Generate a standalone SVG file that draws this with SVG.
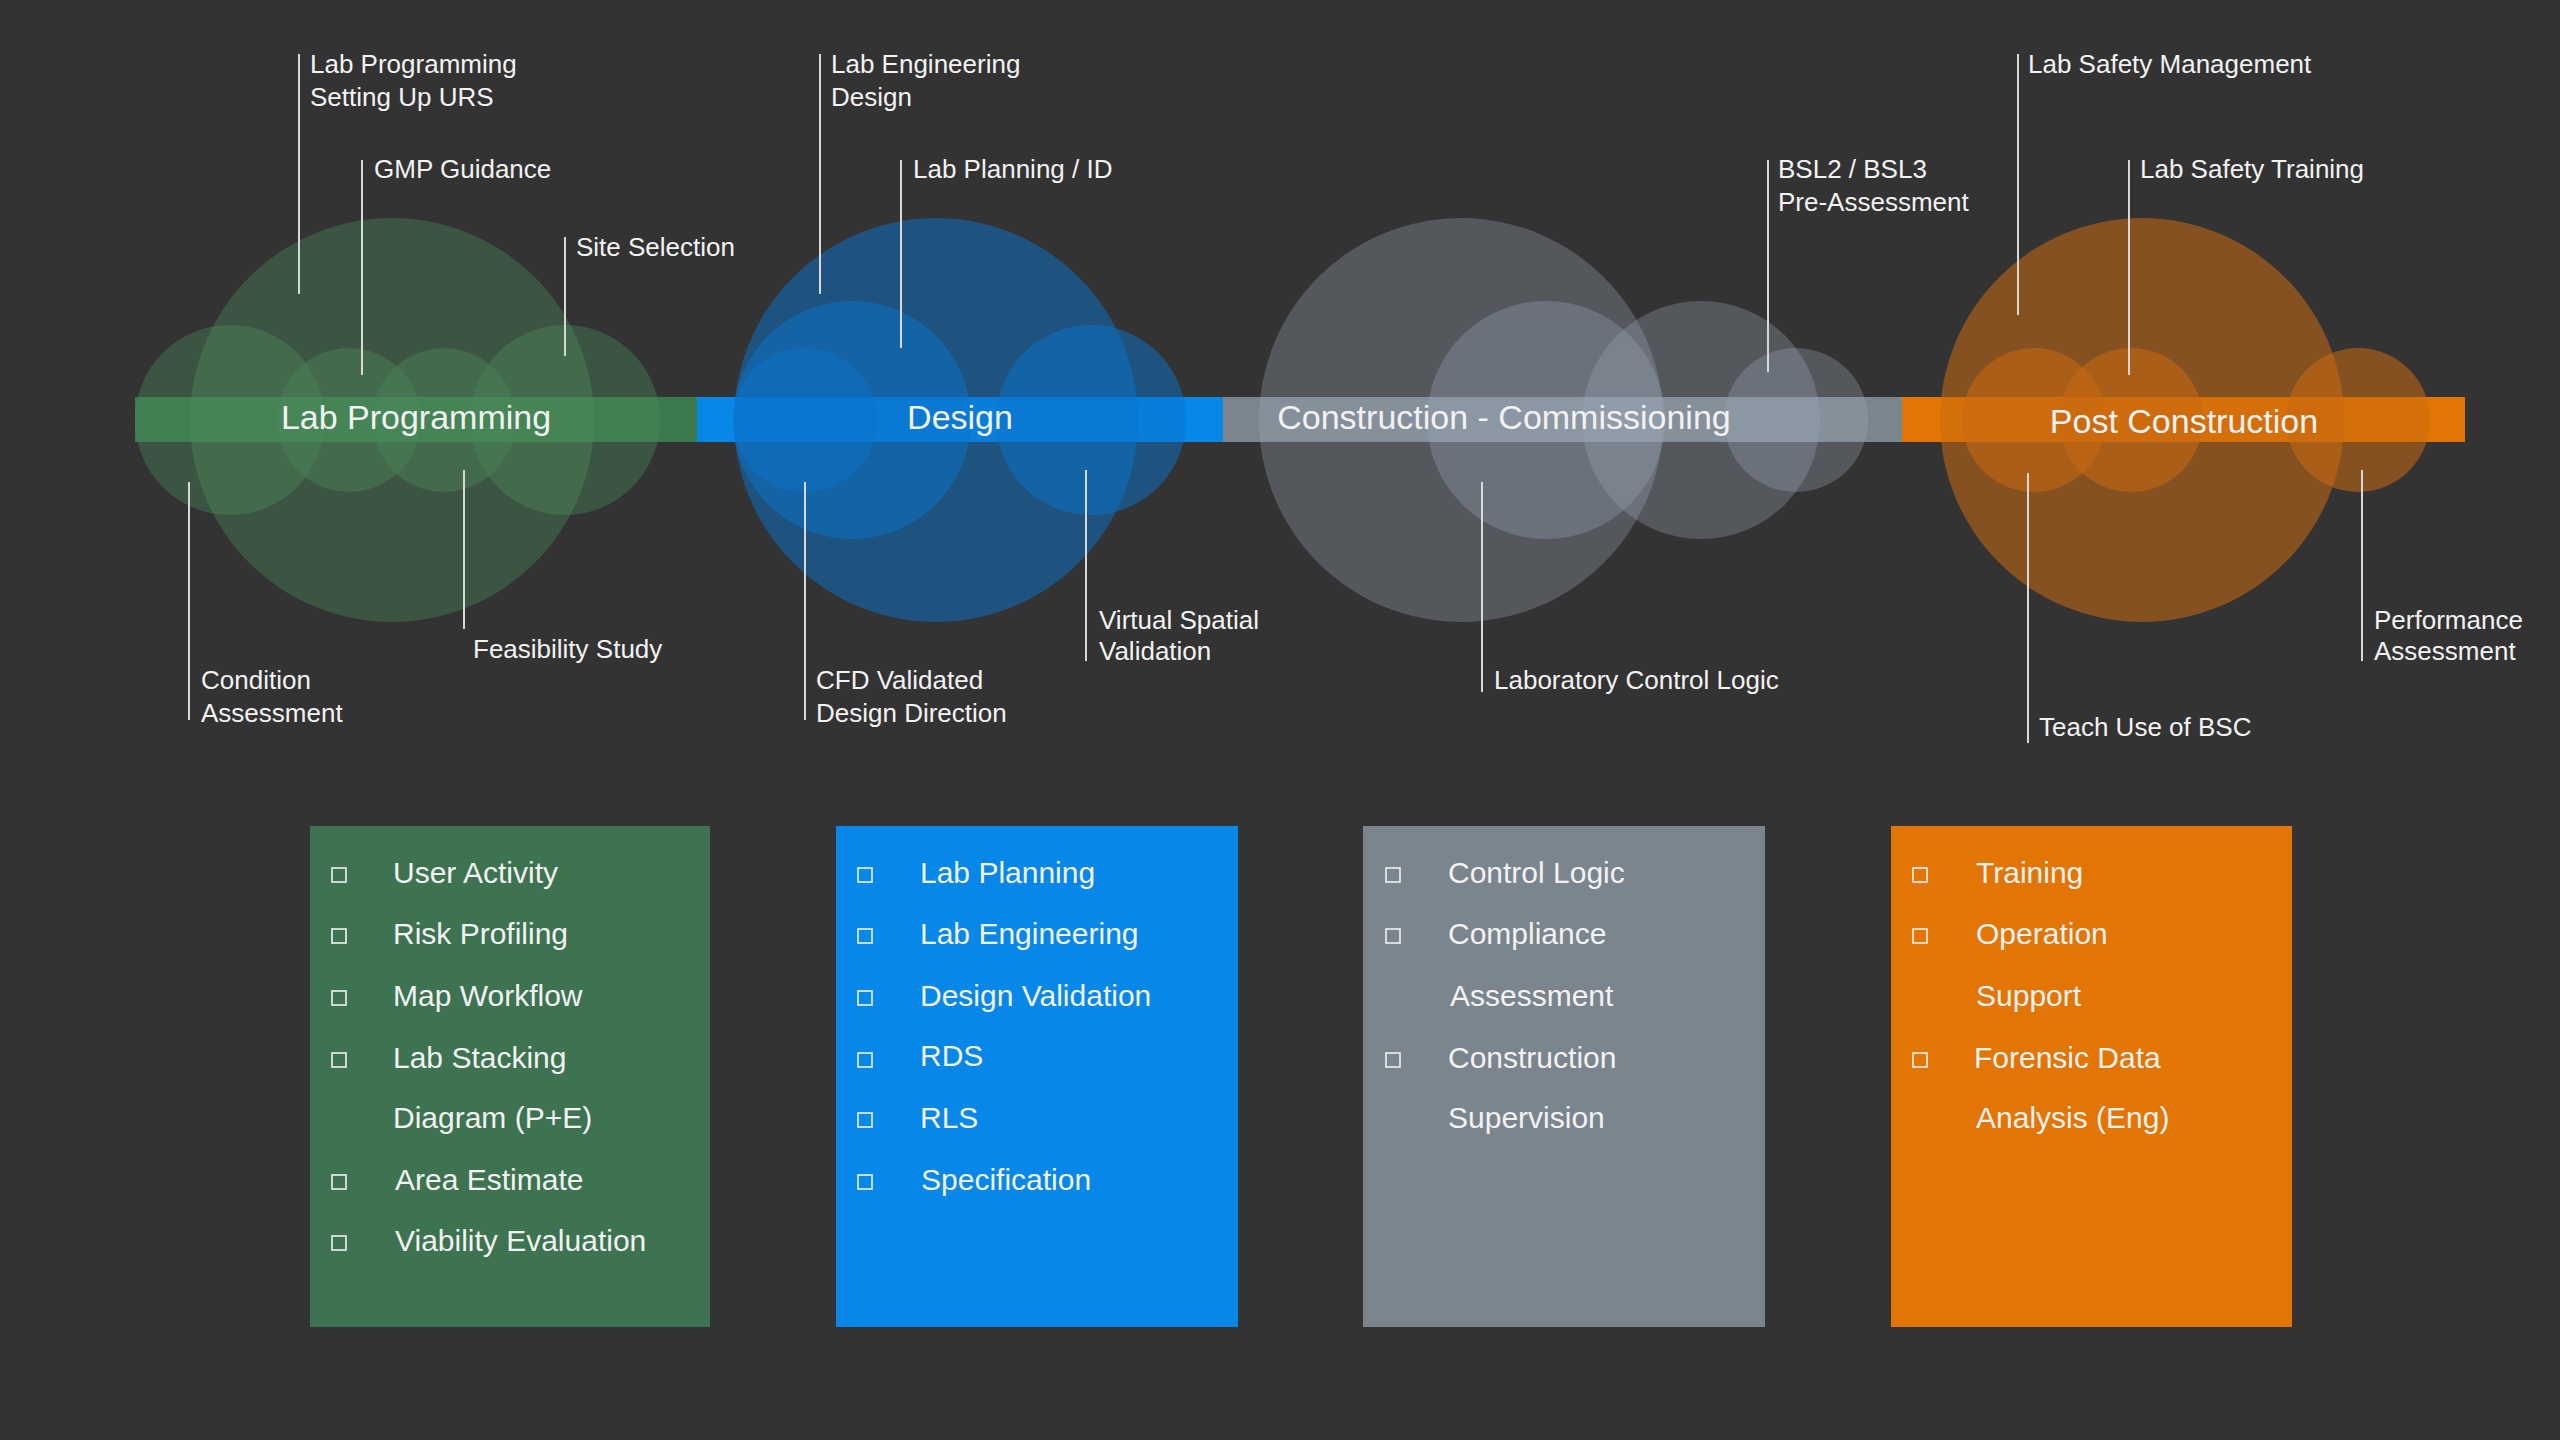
<svg xmlns="http://www.w3.org/2000/svg" width="2560" height="1440" viewBox="0 0 2560 1440">
<style>
text{font-family:"Liberation Sans",Arial,sans-serif;fill:#f2f2f2}
.lbl{font-size:26px}
.bar{font-size:34px;text-anchor:middle}
.li{font-size:30px}
.ln{stroke:#d8d8d8;stroke-width:2}
.cb{fill:none;stroke:#f2f2f2;stroke-width:1.6}
.g{fill:#4a8a5a;fill-opacity:0.4}
.b{fill:#0a74cc;fill-opacity:0.5}
.s{fill:#9aa9b8;fill-opacity:0.32}
.o{fill:#c86a10;fill-opacity:0.55}
</style>
<rect width="2560" height="1440" fill="#333333"/>
<g id="bar">
<rect x="135" y="397" width="562" height="45" fill="#3b7a4f"/>
<rect x="697" y="397" width="526" height="45" fill="#0788e8"/>
<rect x="1223" y="397" width="679" height="45" fill="#7b858e"/>
<rect x="1902" y="397" width="563" height="45" fill="#e37504"/>
</g>
<g id="circles">
<circle class="g" cx="392" cy="420" r="202"/>
<circle class="g" cx="230" cy="420" r="95"/>
<circle class="g" cx="349" cy="420" r="72"/>
<circle class="g" cx="444" cy="420" r="72"/>
<circle class="g" cx="565" cy="420" r="95"/>
<circle class="b" cx="936" cy="420" r="202"/>
<circle class="b" cx="852" cy="420" r="119"/>
<circle class="b" cx="805" cy="420" r="72"/>
<circle class="b" cx="1091" cy="420" r="95"/>
<circle class="s" cx="1461" cy="420" r="202"/>
<circle class="s" cx="1546" cy="420" r="119"/>
<circle class="s" cx="1701" cy="420" r="119"/>
<circle class="s" cx="1796" cy="420" r="72"/>
<circle class="o" cx="2142" cy="420" r="202"/>
<circle class="o" cx="2034" cy="420" r="72"/>
<circle class="o" cx="2131" cy="420" r="72"/>
<circle class="o" cx="2358" cy="420" r="72"/>
</g>
<g id="bar-labels">
<text class="bar" x="416" y="429">Lab Programming</text>
<text class="bar" x="960" y="429">Design</text>
<text class="bar" x="1504" y="429">Construction - Commissioning</text>
<text class="bar" x="2184" y="433">Post Construction</text>
</g>
<g id="connectors">
<line class="ln" x1="299" y1="54" x2="299" y2="294"/>
<line class="ln" x1="362" y1="160" x2="362" y2="375"/>
<line class="ln" x1="565" y1="237" x2="565" y2="356"/>
<line class="ln" x1="189" y1="482" x2="189" y2="720"/>
<line class="ln" x1="464" y1="470" x2="464" y2="629"/>
<line class="ln" x1="820" y1="54" x2="820" y2="294"/>
<line class="ln" x1="901" y1="160" x2="901" y2="348"/>
<line class="ln" x1="805" y1="482" x2="805" y2="720"/>
<line class="ln" x1="1086" y1="470" x2="1086" y2="661"/>
<line class="ln" x1="1768" y1="160" x2="1768" y2="372"/>
<line class="ln" x1="1482" y1="482" x2="1482" y2="692"/>
<line class="ln" x1="2018" y1="54" x2="2018" y2="315"/>
<line class="ln" x1="2129" y1="160" x2="2129" y2="375"/>
<line class="ln" x1="2028" y1="473" x2="2028" y2="743"/>
<line class="ln" x1="2362" y1="470" x2="2362" y2="661"/>
</g>
<g id="labels" class="lbl">
<text class="lbl" x="310" y="73">Lab Programming</text><text class="lbl" x="310" y="106">Setting Up URS</text>
<text class="lbl" x="374" y="178">GMP Guidance</text>
<text class="lbl" x="576" y="256">Site Selection</text>
<text class="lbl" x="201" y="689">Condition</text><text class="lbl" x="201" y="722">Assessment</text>
<text class="lbl" x="473" y="658">Feasibility Study</text>
<text class="lbl" x="831" y="73">Lab Engineering</text><text class="lbl" x="831" y="106">Design</text>
<text class="lbl" x="913" y="178">Lab Planning / ID</text>
<text class="lbl" x="816" y="689">CFD Validated</text><text class="lbl" x="816" y="722">Design Direction</text>
<text class="lbl" x="1099" y="629">Virtual Spatial</text><text class="lbl" x="1099" y="660">Validation</text>
<text class="lbl" x="1778" y="178">BSL2 / BSL3</text><text class="lbl" x="1778" y="211">Pre-Assessment</text>
<text class="lbl" x="1494" y="689">Laboratory Control Logic</text>
<text class="lbl" x="2028" y="73">Lab Safety Management</text>
<text class="lbl" x="2140" y="178">Lab Safety Training</text>
<text class="lbl" x="2039" y="736">Teach Use of BSC</text>
<text class="lbl" x="2374" y="629">Performance</text><text class="lbl" x="2374" y="660">Assessment</text>
</g>
<g id="box-programming">
<rect x="310" y="826" width="400" height="501" fill="#3d7350"/>
<rect class="cb" x="332" y="868" width="14" height="14"/><text class="li" x="393" y="883">User Activity</text>
<rect class="cb" x="332" y="929" width="14" height="14"/><text class="li" x="393" y="944">Risk Profiling</text>
<rect class="cb" x="332" y="991" width="14" height="14"/><text class="li" x="393" y="1006">Map Workflow</text>
<rect class="cb" x="332" y="1053" width="14" height="14"/><text class="li" x="393" y="1068">Lab Stacking</text>
<text class="li" x="393" y="1128">Diagram (P+E)</text>
<rect class="cb" x="332" y="1175" width="14" height="14"/><text class="li" x="395" y="1190">Area Estimate</text>
<rect class="cb" x="332" y="1236" width="14" height="14"/><text class="li" x="395" y="1251">Viability Evaluation</text>
</g>
<g id="box-design">
<rect x="836" y="826" width="402" height="501" fill="#0788e8"/>
<rect class="cb" x="858" y="868" width="14" height="14"/><text class="li" x="920" y="883">Lab Planning</text>
<rect class="cb" x="858" y="929" width="14" height="14"/><text class="li" x="920" y="944">Lab Engineering</text>
<rect class="cb" x="858" y="991" width="14" height="14"/><text class="li" x="920" y="1006">Design Validation</text>
<rect class="cb" x="858" y="1053" width="14" height="14"/><text class="li" x="920" y="1066">RDS</text>
<rect class="cb" x="858" y="1113" width="14" height="14"/><text class="li" x="920" y="1128">RLS</text>
<rect class="cb" x="858" y="1175" width="14" height="14"/><text class="li" x="921" y="1190">Specification</text>
</g>
<g id="box-construction">
<rect x="1363" y="826" width="402" height="501" fill="#7b858e"/>
<rect class="cb" x="1386" y="868" width="14" height="14"/><text class="li" x="1448" y="883">Control Logic</text>
<rect class="cb" x="1386" y="929" width="14" height="14"/><text class="li" x="1448" y="944">Compliance</text>
<text class="li" x="1450" y="1006">Assessment</text>
<rect class="cb" x="1386" y="1053" width="14" height="14"/><text class="li" x="1448" y="1068">Construction</text>
<text class="li" x="1448" y="1128">Supervision</text>
</g>
<g id="box-post">
<rect x="1891" y="826" width="401" height="501" fill="#e37504"/>
<rect class="cb" x="1913" y="868" width="14" height="14"/><text class="li" x="1976" y="883">Training</text>
<rect class="cb" x="1913" y="929" width="14" height="14"/><text class="li" x="1976" y="944">Operation</text>
<text class="li" x="1976" y="1006">Support</text>
<rect class="cb" x="1913" y="1053" width="14" height="14"/><text class="li" x="1974" y="1068">Forensic Data</text>
<text class="li" x="1976" y="1128">Analysis (Eng)</text>
</g>
</svg>
